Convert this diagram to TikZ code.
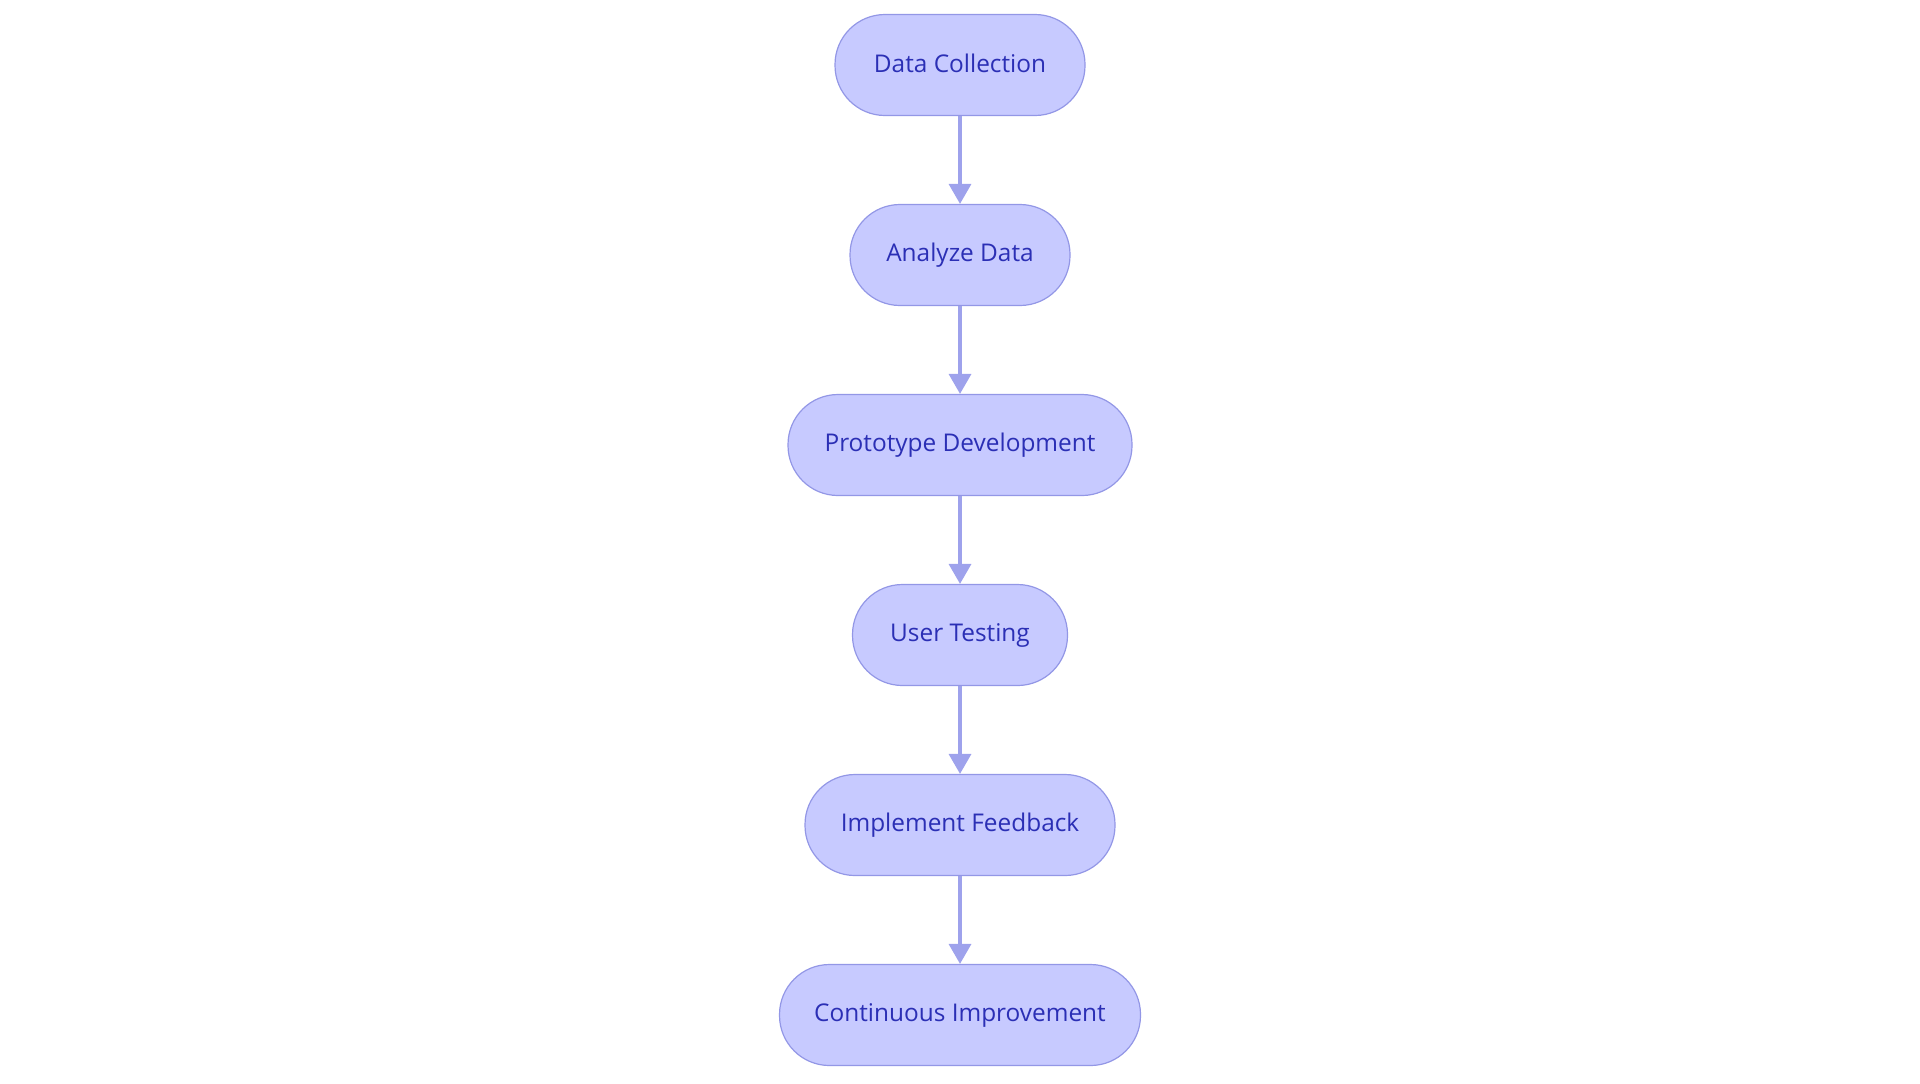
\documentclass[tikz,border=0pt]{standalone}
\usepackage{fontspec}
\setmainfont{Open Sans}
\usetikzlibrary{arrows.meta}
\definecolor{nodefill}{HTML}{C7CAFF}
\definecolor{nodeborder}{HTML}{9397E6}
\definecolor{nodetext}{HTML}{2B2FB5}
\definecolor{edgecol}{HTML}{9EA2EC}
\newcommand{\mylbl}[1]{\raisebox{1.3pt}{#1}}
\begin{document}
\begin{tikzpicture}[x=0.5pt,y=-0.5pt,
  stage/.style={draw=nodeborder, fill=nodefill, line width=0.6pt, rounded corners=25pt,
    minimum height=50.5pt, text=nodetext, font=\fontsize{12.2pt}{15pt}\selectfont, inner sep=0pt},
  flow/.style={draw=edgecol, line width=1.7pt, -{Triangle[width=11pt,length=10pt]}}]
\useasboundingbox (0,0) rectangle (1920,1083);
\node[stage, minimum width=125pt] (n1) at (960,65) {\mylbl{Data Collection}};
\node[stage, minimum width=110pt] (n2) at (960,255) {\mylbl{Analyze Data}};
\node[stage, minimum width=172pt] (n3) at (960,445) {\mylbl{Prototype Development}};
\node[stage, minimum width=107.5pt] (n4) at (960,635) {\mylbl{User Testing}};
\node[stage, minimum width=155pt] (n5) at (960,825) {\mylbl{Implement Feedback}};
\node[stage, minimum width=180.5pt] (n6) at (960,1015) {\mylbl{Continuous Improvement}};
\draw[flow] (n1) -- (n2);
\draw[flow] (n2) -- (n3);
\draw[flow] (n3) -- (n4);
\draw[flow] (n4) -- (n5);
\draw[flow] (n5) -- (n6);
\end{tikzpicture}
\end{document}
